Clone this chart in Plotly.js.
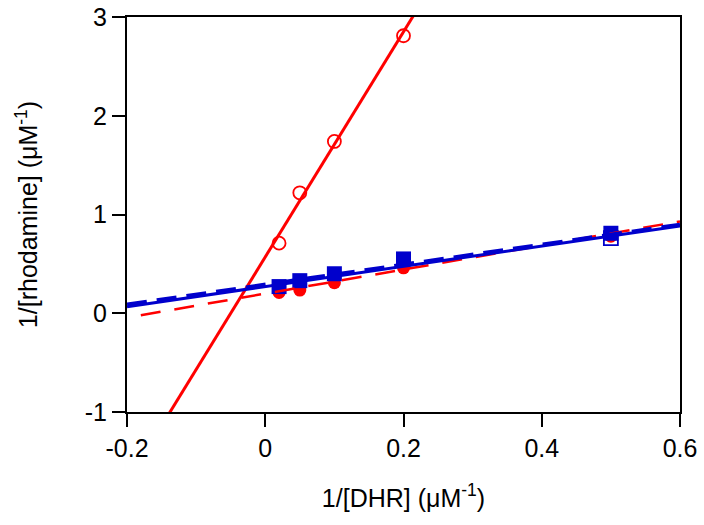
<!DOCTYPE html>
<html>
<head>
<meta charset="utf-8">
<script src="https://cdn.plot.ly/plotly-3.0.1.min.js"></script>
<style>html,body{margin:0;padding:0;background:#fff;}#chart{width:704px;height:525px;}</style>
</head>
<body>
<div id="chart"></div>
<script>
// Data
const xInv = [0.02, 0.05, 0.1, 0.2];
const yOpenCircle = [0.71, 1.22, 1.74, 2.81];
const xInvAll = [0.02, 0.05, 0.1, 0.2, 0.5];
const yFilledCircle = [0.21, 0.235, 0.31, 0.46, 0.78];
const yFilledSquare = [0.27, 0.33, 0.40, 0.55, 0.81];
const xOpenSquare = [0.5];
const yOpenSquare = [0.76];

// Fitted lines (endpoints)
const redSolidX = [-0.15, 0.25];
const redSolidY = [-1.14, 3.42];
const redDashX = [-0.18, 0.6];
const redDashY = [-0.02, 0.93];
const blueSolidX = [-0.2, 0.6];
const blueSolidY = [0.066, 0.885];
const blueDashX = [-0.2, 0.6];
const blueDashY = [0.09, 0.90];

const xTickVals = [-0.2, 0, 0.2, 0.4, 0.6];
const xTickText = ["-0.2", "0", "0.2", "0.4", "0.6"];
const yTickVals = [-1, 0, 1, 2, 3];
const yTickText = ["-1", "0", "1", "2", "3"];

const RED = "#ff0000";
const BLUE = "#0000cc";

const traces = [
  {x: redSolidX, y: redSolidY, mode: "lines", line: {color: RED, width: 3}},
  {x: xInv, y: yOpenCircle, mode: "markers", marker: {symbol: "circle-open", size: 13, color: RED, line: {width: 1.8, color: RED}}},
  {x: xInvAll, y: yFilledCircle, mode: "markers", marker: {symbol: "circle", size: 13, color: RED}},
  {x: xOpenSquare, y: yOpenSquare, mode: "markers", marker: {symbol: "square-open", size: 14, color: BLUE, line: {width: 1.8, color: BLUE}}},
  {x: xInvAll, y: yFilledSquare, mode: "markers", marker: {symbol: "square", size: 15, color: BLUE}},
  {x: redDashX, y: redDashY, mode: "lines", line: {color: RED, width: 2.5, dash: "20px,14px"}},
  {x: blueDashX, y: blueDashY, mode: "lines", line: {color: BLUE, width: 3.5, dash: "20px,10px"}},
  {x: blueSolidX, y: blueSolidY, mode: "lines", line: {color: BLUE, width: 3}}
];

const fontFam = "Liberation Sans, Arial, sans-serif";

const layout = {
  width: 704, height: 525,
  margin: {l: 127, r: 24, t: 17, b: 113},
  paper_bgcolor: "#fff", plot_bgcolor: "#fff",
  showlegend: false,
  font: {family: fontFam, size: 25, color: "#000"},
  xaxis: {
    range: [-0.2, 0.6],
    tickvals: xTickVals, ticktext: xTickText,
    ticks: "outside", ticklen: 13, tickwidth: 2, tickcolor: "#000",
    showline: true, linewidth: 2, linecolor: "#000", mirror: true,
    showgrid: false, zeroline: false,
    tickfont: {size: 25, family: fontFam},
    title: {text: "1/[DHR] (μM<sup>-1</sup>)", font: {size: 25, family: fontFam}, standoff: 28}
  },
  yaxis: {
    range: [-1, 3],
    tickvals: yTickVals, ticktext: yTickText,
    ticks: "outside", ticklen: 13, tickwidth: 2, tickcolor: "#000",
    showline: true, linewidth: 2, linecolor: "#000", mirror: true,
    showgrid: false, zeroline: false,
    tickfont: {size: 25, family: fontFam},
    title: {text: "1/[rhodamine] (μM<sup>-1</sup>)", font: {size: 25, family: fontFam}, standoff: 40}
  }
};

Plotly.newPlot("chart", traces, layout, {staticPlot: true, displayModeBar: false});
</script>
</body>
</html>
